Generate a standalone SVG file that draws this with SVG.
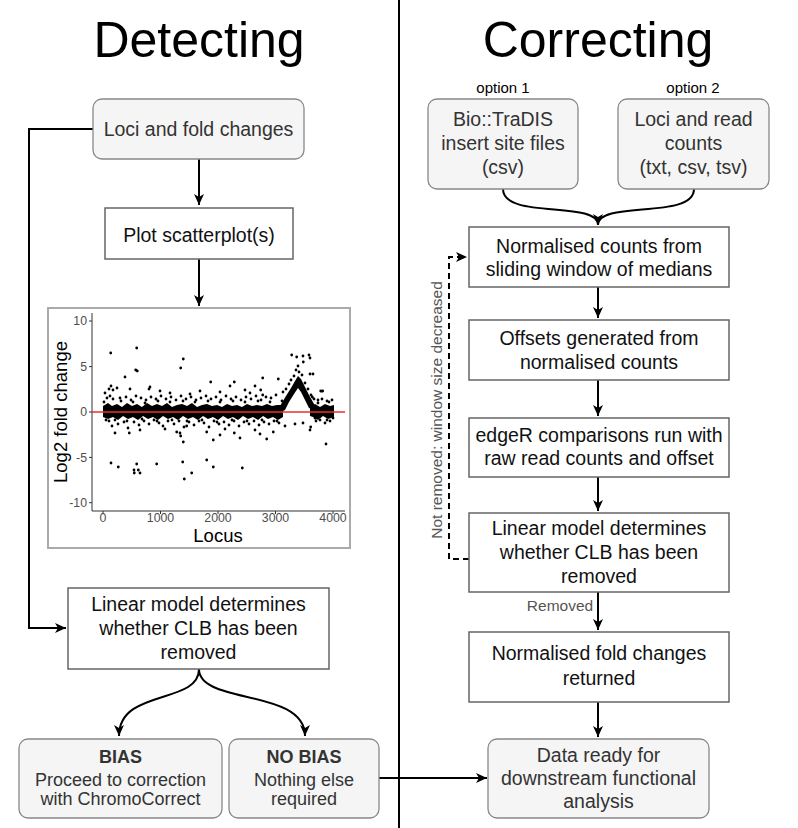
<svg xmlns="http://www.w3.org/2000/svg" width="798" height="828" viewBox="0 0 798 828">
<style>
.box{fill:#fff;stroke:#666;stroke-width:1.5}
.rbox{fill:#f5f5f5;stroke:#888;stroke-width:1.3}
.t{font-family:"Liberation Sans",Arial,sans-serif;font-size:19.5px;fill:#111;text-anchor:middle}
.tr{fill:#333}
.sm{font-size:18px}
.lbl{font-family:"Liberation Sans",Arial,sans-serif;font-size:15.5px;fill:#555;text-anchor:middle}
.opt{font-family:"Liberation Sans",Arial,sans-serif;font-size:15px;fill:#000;text-anchor:middle}
.title{font-family:"Liberation Sans",Arial,sans-serif;font-size:50px;fill:#000;text-anchor:middle}
.c{stroke:#000;stroke-width:2;fill:none}
.tick{font-family:"Liberation Sans",Arial,sans-serif;font-size:12.3px;fill:#4d4d4d}
</style>
<defs>
<marker id="ar" markerUnits="userSpaceOnUse" markerWidth="12" markerHeight="12" viewBox="0 0 12 12" refX="11" refY="6" orient="auto">
<path d="M0,1 L11,6 L0,11 L3,6 z" fill="#000"/>
</marker>
</defs>
<rect width="798" height="828" fill="#fff"/>
<line x1="399" y1="0" x2="399" y2="828" stroke="#000" stroke-width="2"/>
<text class="title" x="199" y="57">Detecting</text>
<text class="title" x="598" y="57">Correcting</text>

<g id="connectors">
<path class="c" d="M199,159 V205" marker-end="url(#ar)"/>
<path class="c" d="M199,259 V306" marker-end="url(#ar)"/>
<path class="c" d="M93,129 H29 V628 H66" marker-end="url(#ar)"/>
<path class="c" d="M199,669 C199,705 119,688 119,736" marker-end="url(#ar)"/>
<path class="c" d="M199,669 C199,705 305,688 305,736" marker-end="url(#ar)"/>
<path class="c" d="M379,778 H487" marker-end="url(#ar)"/>
<path class="c" d="M503,189 C503,220 598,200 598,225" marker-end="url(#ar)"/>
<path class="c" d="M694,189 C694,220 598,200 598,225"/>
<path class="c" d="M598,287 V318" marker-end="url(#ar)"/>
<path class="c" d="M598,380 V416" marker-end="url(#ar)"/>
<path class="c" d="M598,477 V511" marker-end="url(#ar)"/>
<path class="c" d="M598,592 V630" marker-end="url(#ar)"/>
<path class="c" d="M598,702 V737" marker-end="url(#ar)"/>
<path class="c" d="M469,559 H449 V257 H467" stroke-dasharray="6,4" marker-end="url(#ar)"/>
<text class="lbl" transform="translate(441.5,410) rotate(-90)">Not removed: window size decreased</text>
<text class="lbl" x="560" y="611">Removed</text>
</g>

<g id="loci-fold">
<rect class="rbox" x="93" y="99" width="211" height="60" rx="9"/>
<text class="t tr" x="198.5" y="135.5">Loci and fold changes</text>
</g>
<g id="plot-scatter">
<rect class="box" x="105" y="208" width="188" height="51"/>
<text class="t" x="199" y="242">Plot scatterplot(s)</text>
</g>

<g id="scatterplot">
<rect x="48" y="308" width="302" height="240" fill="#fff" stroke="#aaa" stroke-width="2"/>
<g stroke="#333" stroke-width="1">
<line x1="92" y1="313" x2="92" y2="511"/>
<line x1="92" y1="511" x2="345" y2="511"/>
<line x1="89" y1="321" x2="92" y2="321"/>
<line x1="89" y1="366.6" x2="92" y2="366.6"/>
<line x1="89" y1="412" x2="92" y2="412"/>
<line x1="89" y1="457.4" x2="92" y2="457.4"/>
<line x1="89" y1="502.7" x2="92" y2="502.7"/>
<line x1="103" y1="511" x2="103" y2="514"/>
<line x1="160.5" y1="511" x2="160.5" y2="514"/>
<line x1="218" y1="511" x2="218" y2="514"/>
<line x1="275.5" y1="511" x2="275.5" y2="514"/>
<line x1="333" y1="511" x2="333" y2="514"/>
</g>
<g class="tick" text-anchor="end">
<text x="87" y="325.3">10</text>
<text x="87" y="370.9">5</text>
<text x="87" y="416.3">0</text>
<text x="87" y="461.7">-5</text>
<text x="87" y="507">-10</text>
</g>
<g class="tick" text-anchor="middle">
<text x="103" y="522">0</text>
<text x="160.5" y="522">1000</text>
<text x="218" y="522">2000</text>
<text x="275.5" y="522">3000</text>
<text x="333" y="522">4000</text>
</g>
<text font-family="Liberation Sans,Arial,sans-serif" font-size="18.5" text-anchor="middle" x="218" y="541.5">Locus</text>
<text font-family="Liberation Sans,Arial,sans-serif" font-size="18.5" text-anchor="middle" transform="translate(67,412) rotate(-90)">Log2 fold change</text>
<polygon fill="#000" points="103,406 108,403 112,406 117,404 122,407 127,403 132,406 137,404 142,407 147,403 152,406 157,404 162,406 167,403 172,407 177,405 182,404 187,406 192,403 197,407 202,405 207,404 212,406 217,405 222,407 227,404 232,406 237,405 242,407 247,404 252,406 257,405 262,406 267,404 272,406 277,405 283,405 283,417 278,420 273,417 268,419 263,416 258,420 253,417 248,419 243,416 238,420 233,417 228,419 223,416 218,420 213,417 208,419 203,416 198,420 193,417 188,419 183,416 178,420 173,417 168,419 163,416 158,420 153,417 148,419 143,416 138,420 133,417 128,419 123,416 118,420 113,417 108,419 103,417"/>
<polygon fill="#000" points="280,406 286,396 291,388 295,381 298,376 301,379 305,387 309,395 314,404 314,410 309,408 305,400 301,392 298,388 294,394 289,402 285,410 281,412"/>
<polygon fill="#000" points="310,406 315,404 320,407 325,404 330,406 334,405 334,417 328,419 323,416 318,420 313,417 310,416"/>
<path fill="none" stroke="#000" stroke-width="2.8" stroke-linecap="round" d="M105 393h0M107 398h0M110 396h0M113 399h0M115 420h0M118 424h0M112 426h0M120 398h0M124 422h0M126 397h0M128 428h0M131 400h0M134 422h0M136 396h0M139 425h0M141 398h0M144 421h0M146 400h0M149 424h0M151 397h0M154 420h0M156 399h0M159 423h0M161 396h0M163 426h0M166 399h0M168 421h0M171 397h0M174 424h0M176 400h0M179 421h0M181 396h0M184 427h0M186 399h0M189 422h0M191 397h0M194 425h0M196 400h0M199 421h0M201 398h0M204 423h0M206 396h0M209 427h0M211 399h0M214 421h0M216 397h0M219 424h0M221 400h0M224 422h0M226 396h0M229 425h0M231 399h0M234 421h0M236 397h0M239 426h0M241 400h0M244 422h0M246 397h0M249 424h0M251 399h0M254 421h0M256 396h0M259 425h0M261 400h0M264 422h0M266 397h0M269 424h0M271 398h0M274 421h0M276 395h0M279 423h0M283 392h0M286 389h0M289 384h0M286 400h0M291 380h0M294 376h0M299 372h0M302 375h0M305 383h0M308 389h0M311 395h0M314 399h0M316 421h0M318 403h0M320 420h0M322 399h0M325 423h0M327 401h0M330 421h0M332 400h0M333 418h0M110.7 353h0M136.7 348h0M135.7 370h0M137.3 371h0M183.3 359h0M180.7 368h0M125 377h0M109 389h0M111 386h0M113 390h0M130 389h0M150 387h0M149 389h0M210.7 382h0M234.3 382h0M230 386h0M262.7 378h0M278.3 379h0M255 386h0M260.7 390h0M262.7 395h0M291.7 355h0M296.7 357h0M303.3 362h0M309 355h0M310 358h0M303 356h0M313 374h0M310 374h0M320.7 391h0M322.7 391h0M312.3 397h0M111 463h0M118.3 467h0M134 470h0M134.3 473h0M136.7 464h0M138.3 470h0M140 473h0M156.7 464h0M182.7 462h0M184.3 479h0M191.7 473h0M206.7 460h0M213.3 467h0M242.3 468h0M183.3 442h0M180.7 436h0M180 433h0M129.3 433h0M115 433h0M176.7 432h0M213.3 440h0M220 435h0M240 438h0M234.3 433h0M260 434h0M266.7 439h0M273.3 432h0M310 430h0M326 444h0M310.7 427h0M303 423h0M206.7 432h0M186.7 426h0M190 394h0M200 391h0M245 390h0M250 393h0M220 392h0M160 391h0M170 393h0M117 388h0M285 426h0M295 424h0M140 430h0M165 429h0M255 430h0M225 429h0M104 402h0M109 421h0M121 401h0M133 402h0M145 403h0M158 401h0M170 402h0M183 401h0M195 402h0M208 401h0M220 402h0M233 401h0M245 402h0M258 401h0M270 402h0M282 401h0M106 420h0M127 421h0M142 419h0M157 421h0M172 420h0M187 421h0M202 420h0M217 422h0M232 420h0M247 421h0M262 420h0M277 421h0M318 400h0M329 402h0M315 418h0M327 420h0M297 382h0M300 384h0M296 370h0M298 366h0"/>
<line x1="92" y1="412" x2="345" y2="412" stroke="#e8312a" stroke-width="1.3"/>
</g>

<g id="linear-left">
<rect class="box" x="68" y="588" width="261" height="81"/>
<text class="t" x="198.5" y="611">Linear model determines</text>
<text class="t" x="198.5" y="635">whether CLB has been</text>
<text class="t" x="198.5" y="659">removed</text>
</g>
<g id="bias">
<rect class="rbox" x="19" y="739" width="203" height="79" rx="9"/>
<text class="t tr sm" x="120.5" y="763" font-weight="bold">BIAS</text>
<text class="t tr sm" x="120.5" y="785.5">Proceed to correction</text>
<text class="t tr sm" x="120.5" y="804.5">with ChromoCorrect</text>
</g>
<g id="nobias">
<rect class="rbox" x="229" y="739" width="150" height="79" rx="9"/>
<text class="t tr sm" x="304" y="763" font-weight="bold">NO BIAS</text>
<text class="t tr sm" x="304" y="785.5">Nothing else</text>
<text class="t tr sm" x="304" y="804.5">required</text>
</g>

<g id="option1">
<text class="opt" x="503" y="93">option 1</text>
<rect class="rbox" x="428" y="99" width="150" height="90" rx="9"/>
<text class="t tr" x="503" y="126">Bio::TraDIS</text>
<text class="t tr" x="503" y="150">insert site files</text>
<text class="t tr" x="503" y="174">(csv)</text>
</g>
<g id="option2">
<text class="opt" x="693" y="93">option 2</text>
<rect class="rbox" x="618" y="99" width="151" height="90" rx="9"/>
<text class="t tr" x="693.5" y="126">Loci and read</text>
<text class="t tr" x="693.5" y="150">counts</text>
<text class="t tr" x="693.5" y="174">(txt, csv, tsv)</text>
</g>
<g id="normalised-counts">
<rect class="box" x="469" y="227" width="260" height="60"/>
<text class="t" x="599" y="253">Normalised counts from</text>
<text class="t" x="599" y="276">sliding window of medians</text>
</g>
<g id="offsets">
<rect class="box" x="469" y="320" width="260" height="60"/>
<text class="t" x="599" y="345">Offsets generated from</text>
<text class="t" x="599" y="368.5">normalised counts</text>
</g>
<g id="edger">
<rect class="box" x="469" y="418" width="260" height="59"/>
<text class="t" x="599" y="442">edgeR comparisons run with</text>
<text class="t" x="599" y="465">raw read counts and offset</text>
</g>
<g id="linear-right">
<rect class="box" x="469" y="513" width="260" height="79"/>
<text class="t" x="599" y="535">Linear model determines</text>
<text class="t" x="599" y="559">whether CLB has been</text>
<text class="t" x="599" y="583">removed</text>
</g>
<g id="normalised-fold">
<rect class="box" x="469" y="632" width="260" height="70"/>
<text class="t" x="599" y="660">Normalised fold changes</text>
<text class="t" x="599" y="685">returned</text>
</g>
<g id="data-ready">
<rect class="rbox" x="488" y="739" width="221" height="79" rx="9"/>
<text class="t tr" x="598.5" y="762">Data ready for</text>
<text class="t tr" x="598.5" y="785">downstream functional</text>
<text class="t tr" x="598.5" y="808">analysis</text>
</g>
</svg>
